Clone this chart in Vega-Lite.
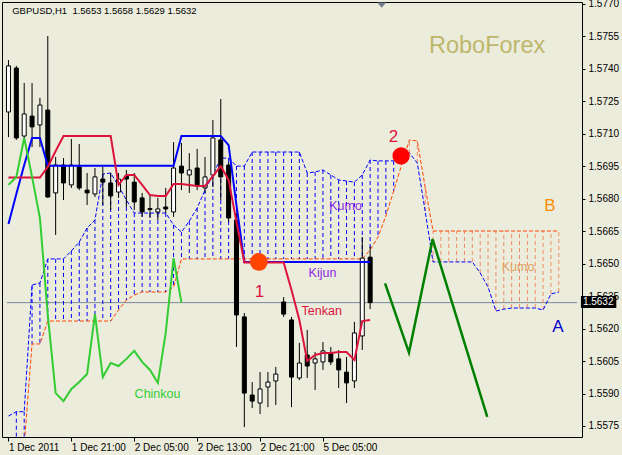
{
"$schema":"https://vega.github.io/schema/vega-lite/v6.json",
"width":580,"height":435,
"autosize":{"type":"none"},
"padding":{"left":2,"top":2,"right":40,"bottom":18},
"background":"#ECECDC",
"config":{"view":{"stroke":"#000000","strokeWidth":1,"fill":"#ECECDC"},"font":"Liberation Sans",
 "axis":{"domain":false,"grid":false,"tickColor":"#000000","labelColor":"#000000","labelFont":"Liberation Sans","labelFontSize":10,"labelOverlap":false,"labelFlush":false,"labelBound":false},
 "axisX":{"tickSize":4,"labelPadding":1,"labelAlign":"left","labelBaseline":"top"},
 "axisY":{"tickSize":3,"labelPadding":3,"labelBaseline":"middle"}},
"encoding":{"x":{"field":"i","type":"quantitative","scale":{"domain":[-0.1875,72.3125],"nice":false,"zero":false},
   "axis":{"title":null,"values":[0,8,16,24,32,40],"labelExpr":"datum.value==0?'1 Dec 2011':datum.value==8?'1 Dec 21:00':datum.value==16?'2 Dec 05:00':datum.value==24?'2 Dec 13:00':datum.value==32?'2 Dec 21:00':'5 Dec 05:00'"}}},
"datasets":{"ichi":[
{"i":0,"o":1.57201,"h":1.57441,"l":1.57085,"c":1.57414,"tenkan":1.56898,"kijun":1.56683,"chinkou":1.56864,"spanA":1.55796},
{"i":1,"o":1.57404,"h":1.57414,"l":1.57072,"c":1.57081,"tenkan":1.56898,"kijun":1.56822,"chinkou":1.56901,"spanA":1.55816,"spanB":1.5566},
{"i":2,"o":1.57090,"h":1.57335,"l":1.57072,"c":1.57192,"tenkan":1.56898,"kijun":1.56956,"chinkou":1.57081,"spanA":1.55816,"spanB":1.5566},
{"i":3,"o":1.57182,"h":1.57335,"l":1.57039,"c":1.57132,"tenkan":1.56898,"kijun":1.57081,"chinkou":1.56901,"spanA":1.56401,"spanB":1.56129},
{"i":4,"o":1.57141,"h":1.57266,"l":1.57039,"c":1.57233,"tenkan":1.56898,"kijun":1.57081,"chinkou":1.56711,"spanA":1.56411,"spanB":1.56129},
{"i":5,"o":1.57210,"h":1.57552,"l":1.56804,"c":1.56808,"tenkan":1.56947,"kijun":1.56953,"chinkou":1.56263,"spanA":1.56522,"spanB":1.56235},
{"i":6,"o":1.56827,"h":1.56993,"l":1.56633,"c":1.56956,"tenkan":1.57021,"kijun":1.56953,"chinkou":1.55902,"spanA":1.56522,"spanB":1.56235},
{"i":7,"o":1.56956,"h":1.56988,"l":1.56794,"c":1.56873,"tenkan":1.57090,"kijun":1.56953,"chinkou":1.55865,"spanA":1.56522,"spanB":1.56235},
{"i":8,"o":1.56864,"h":1.57076,"l":1.56850,"c":1.56956,"tenkan":1.57090,"kijun":1.56953,"chinkou":1.55921,"spanA":1.56559,"spanB":1.56235},
{"i":9,"o":1.56947,"h":1.57053,"l":1.56840,"c":1.56850,"tenkan":1.57090,"kijun":1.56953,"chinkou":1.55953,"spanA":1.56600,"spanB":1.56235},
{"i":10,"o":1.56840,"h":1.56919,"l":1.56771,"c":1.56827,"tenkan":1.57090,"kijun":1.56953,"chinkou":1.55990,"spanA":1.56665,"spanB":1.56235},
{"i":11,"o":1.56822,"h":1.56942,"l":1.56808,"c":1.56901,"tenkan":1.57090,"kijun":1.56953,"chinkou":1.56267,"spanA":1.56702,"spanB":1.56235},
{"i":12,"o":1.56891,"h":1.56947,"l":1.56771,"c":1.56877,"tenkan":1.57090,"kijun":1.56953,"chinkou":1.55976,"spanA":1.56914,"spanB":1.56235},
{"i":13,"o":1.56873,"h":1.56919,"l":1.56748,"c":1.56813,"tenkan":1.57090,"kijun":1.56953,"chinkou":1.56041,"spanA":1.56919,"spanB":1.56235},
{"i":14,"o":1.56831,"h":1.56919,"l":1.56804,"c":1.56891,"tenkan":1.56864,"kijun":1.56953,"chinkou":1.56027,"spanA":1.56859,"spanB":1.56286},
{"i":15,"o":1.56905,"h":1.56933,"l":1.56762,"c":1.56891,"tenkan":1.56910,"kijun":1.56953,"chinkou":1.56060,"spanA":1.56794,"spanB":1.56332},
{"i":16,"o":1.56877,"h":1.56919,"l":1.56748,"c":1.56785,"tenkan":1.56910,"kijun":1.56953,"chinkou":1.56097,"spanA":1.56734,"spanB":1.56355},
{"i":17,"o":1.56804,"h":1.56827,"l":1.56716,"c":1.56739,"tenkan":1.56864,"kijun":1.56953,"chinkou":1.56046,"spanA":1.56734,"spanB":1.56369},
{"i":18,"o":1.56755,"h":1.56817,"l":1.56711,"c":1.56750,"tenkan":1.56817,"kijun":1.56953,"chinkou":1.56009,"spanA":1.56734,"spanB":1.56369},
{"i":19,"o":1.56739,"h":1.56804,"l":1.56702,"c":1.56753,"tenkan":1.56813,"kijun":1.56953,"chinkou":1.55949,"spanA":1.56734,"spanB":1.56369},
{"i":20,"o":1.56762,"h":1.56850,"l":1.56734,"c":1.56753,"tenkan":1.56813,"kijun":1.56953,"chinkou":1.56180,"spanA":1.56734,"spanB":1.56369},
{"i":21,"o":1.56739,"h":1.57062,"l":1.56716,"c":1.56942,"tenkan":1.56868,"kijun":1.56953,"chinkou":1.56526,"spanA":1.56679,"spanB":1.56392},
{"i":22,"o":1.56951,"h":1.57058,"l":1.56840,"c":1.56919,"tenkan":1.56868,"kijun":1.57090,"chinkou":1.5632,"spanA":1.56646,"spanB":1.56522},
{"i":23,"o":1.56910,"h":1.57011,"l":1.56827,"c":1.56933,"tenkan":1.56864,"kijun":1.57090,"spanA":1.56697,"spanB":1.56522},
{"i":24,"o":1.56942,"h":1.57030,"l":1.56840,"c":1.56864,"tenkan":1.56859,"kijun":1.57090,"spanA":1.56757,"spanB":1.56522},
{"i":25,"o":1.56850,"h":1.56993,"l":1.56827,"c":1.56901,"tenkan":1.56859,"kijun":1.57090,"spanA":1.56840,"spanB":1.56522},
{"i":26,"o":1.56910,"h":1.57164,"l":1.56854,"c":1.57081,"tenkan":1.56905,"kijun":1.57090,"spanA":1.56910,"spanB":1.56522},
{"i":27,"o":1.57072,"h":1.57261,"l":1.56794,"c":1.56901,"tenkan":1.56951,"kijun":1.57090,"spanA":1.56988,"spanB":1.56522},
{"i":28,"o":1.56956,"h":1.56970,"l":1.56693,"c":1.56711,"tenkan":1.56887,"kijun":1.57048,"spanA":1.56988,"spanB":1.56522},
{"i":29,"o":1.56702,"h":1.56734,"l":1.56115,"c":1.56263,"tenkan":1.56693,"kijun":1.56771,"spanA":1.56951,"spanB":1.56522},
{"i":30,"o":1.56254,"h":1.56272,"l":1.55745,"c":1.55902,"tenkan":1.56506,"kijun":1.56508,"spanA":1.56951,"spanB":1.56522},
{"i":31,"o":1.55893,"h":1.55953,"l":1.55833,"c":1.55865,"tenkan":1.56506,"kijun":1.56508,"spanA":1.57016,"spanB":1.56522},
{"i":32,"o":1.55856,"h":1.55999,"l":1.55805,"c":1.55921,"tenkan":1.56506,"kijun":1.56508,"spanA":1.57016,"spanB":1.56522},
{"i":33,"o":1.55930,"h":1.55999,"l":1.55837,"c":1.55953,"tenkan":1.56506,"kijun":1.56508,"spanA":1.57016,"spanB":1.56522},
{"i":34,"o":1.55958,"h":1.56023,"l":1.55847,"c":1.55990,"tenkan":1.56506,"kijun":1.56508,"spanA":1.57016,"spanB":1.56522},
{"i":35,"o":1.56323,"h":1.56346,"l":1.56254,"c":1.56267,"tenkan":1.56506,"kijun":1.56508,"spanA":1.57016,"spanB":1.56522},
{"i":36,"o":1.56240,"h":1.56254,"l":1.55837,"c":1.55976,"tenkan":1.56378,"kijun":1.56508,"spanA":1.57016,"spanB":1.56522},
{"i":37,"o":1.55972,"h":1.56134,"l":1.55962,"c":1.56041,"tenkan":1.56240,"kijun":1.56508,"spanA":1.57016,"spanB":1.56522},
{"i":38,"o":1.56078,"h":1.56194,"l":1.55972,"c":1.56027,"tenkan":1.56050,"kijun":1.56508,"spanA":1.56919,"spanB":1.56522},
{"i":39,"o":1.56041,"h":1.56092,"l":1.55916,"c":1.56060,"tenkan":1.56078,"kijun":1.56508,"spanA":1.56924,"spanB":1.56522},
{"i":40,"o":1.56046,"h":1.56138,"l":1.56009,"c":1.56097,"tenkan":1.56087,"kijun":1.56508,"spanA":1.56933,"spanB":1.56522},
{"i":41,"o":1.56087,"h":1.56115,"l":1.56032,"c":1.56046,"tenkan":1.56087,"kijun":1.56508,"spanA":1.56910,"spanB":1.56522},
{"i":42,"o":1.56060,"h":1.56101,"l":1.55925,"c":1.56009,"tenkan":1.56092,"kijun":1.56508,"spanA":1.56887,"spanB":1.56522},
{"i":43,"o":1.55999,"h":1.56069,"l":1.55856,"c":1.55949,"tenkan":1.56092,"kijun":1.56508,"spanA":1.56882,"spanB":1.56522},
{"i":44,"o":1.55958,"h":1.56231,"l":1.55925,"c":1.56180,"tenkan":1.56055,"kijun":1.56508,"spanA":1.56877,"spanB":1.56522},
{"i":45,"o":1.56166,"h":1.56623,"l":1.56101,"c":1.56526,"tenkan":1.56235,"kijun":1.56508,"spanA":1.56910,"spanB":1.56522},
{"i":46,"o":1.5653,"h":1.5658,"l":1.5629,"c":1.5632,"tenkan":1.56240,"kijun":1.56508,"spanA":1.56979,"spanB":1.56563},
{"i":47,"spanA":1.56975,"spanB":1.56623},
{"i":48,"spanA":1.56975,"spanB":1.56720},
{"i":49,"spanA":1.56975,"spanB":1.56836},
{"i":50,"spanA":1.57002,"spanB":1.56956},
{"i":51,"spanA":1.57011,"spanB":1.57072},
{"i":52,"spanA":1.56965,"spanB":1.57067},
{"i":53,"spanA":1.56743,"spanB":1.56854},
{"i":54,"spanA":1.56508,"spanB":1.56651},
{"i":55,"spanA":1.56508,"spanB":1.56651},
{"i":56,"spanA":1.56508,"spanB":1.56651},
{"i":57,"spanA":1.56508,"spanB":1.56651},
{"i":58,"spanA":1.56508,"spanB":1.56651},
{"i":59,"spanA":1.56508,"spanB":1.56651},
{"i":60,"spanA":1.56457,"spanB":1.56651},
{"i":61,"spanA":1.56392,"spanB":1.56651},
{"i":62,"spanA":1.56281,"spanB":1.56651},
{"i":63,"spanA":1.56290,"spanB":1.56651},
{"i":64,"spanA":1.56295,"spanB":1.56651},
{"i":65,"spanA":1.56295,"spanB":1.56651},
{"i":66,"spanA":1.56295,"spanB":1.56651},
{"i":67,"spanA":1.56295,"spanB":1.56651},
{"i":68,"spanA":1.56286,"spanB":1.56651},
{"i":69,"spanA":1.56360,"spanB":1.56651},
{"i":70,"spanA":1.56369,"spanB":1.56651}
]},
"layer":[
{"data":{"values":[{"i":-0.1875,"i2":72.3125,"p":1.5632}]},"mark":{"type":"rule","color":"#778899","strokeWidth":1},
 "encoding":{"x2":{"field":"i2"},"y":{"field":"p","type":"quantitative","scale":{"domain":[1.5569907,1.5770924],"nice":false,"zero":false},"axis":{"orient":"right","title":null,"values":[1.5575,1.559,1.5605,1.562,1.5635,1.565,1.5665,1.568,1.5695,1.571,1.5725,1.574,1.5755,1.577],"format":".4f"}}}},
{"data":{"name":"ichi"},"transform":[{"filter":"isValid(datum.spanA) && isValid(datum.spanB)"}],
 "mark":{"type":"rule","strokeWidth":1,"strokeDash":[4,3],"clip":true},
 "encoding":{"y":{"field":"spanA","type":"quantitative","scale":{"domain":[1.5569907,1.5770924],"nice":false,"zero":false},"axis":{"orient":"right","title":null,"values":[1.5575,1.559,1.5605,1.562,1.5635,1.565,1.5665,1.568,1.5695,1.571,1.5725,1.574,1.5755,1.577],"format":".4f"}},
  "y2":{"field":"spanB"},
  "color":{"condition":{"test":"datum.spanA > datum.spanB","value":"#0000FF"},"value":"#F08A66"}}},
{"data":{"name":"ichi"},"transform":[{"filter":"isValid(datum.spanB)"}],
 "mark":{"type":"line","color":"#FF4500","strokeWidth":1,"strokeDash":[4,2],"clip":true},
 "encoding":{"y":{"field":"spanB","type":"quantitative","scale":{"domain":[1.5569907,1.5770924],"nice":false,"zero":false},"axis":{"orient":"right","title":null,"values":[1.5575,1.559,1.5605,1.562,1.5635,1.565,1.5665,1.568,1.5695,1.571,1.5725,1.574,1.5755,1.577],"format":".4f"}}}},
{"data":{"name":"ichi"},"transform":[{"filter":"isValid(datum.spanA)"}],
 "mark":{"type":"line","color":"#0000FF","strokeWidth":1,"strokeDash":[4,2],"clip":true},
 "encoding":{"y":{"field":"spanA","type":"quantitative","scale":{"domain":[1.5569907,1.5770924],"nice":false,"zero":false},"axis":{"orient":"right","title":null,"values":[1.5575,1.559,1.5605,1.562,1.5635,1.565,1.5665,1.568,1.5695,1.571,1.5725,1.574,1.5755,1.577],"format":".4f"}}}},
{"data":{"name":"ichi"},"transform":[{"filter":"isValid(datum.o)"}],
 "mark":{"type":"rule","color":"#000000","strokeWidth":1},
 "encoding":{"y":{"field":"l","type":"quantitative","scale":{"domain":[1.5569907,1.5770924],"nice":false,"zero":false},"axis":{"orient":"right","title":null,"values":[1.5575,1.559,1.5605,1.562,1.5635,1.565,1.5665,1.568,1.5695,1.571,1.5725,1.574,1.5755,1.577],"format":".4f"}},
  "y2":{"field":"h"}}},
{"data":{"name":"ichi"},"transform":[{"filter":"isValid(datum.o)"}],
 "mark":{"type":"bar","width":4,"stroke":"#000000","strokeWidth":1},
 "encoding":{"y":{"field":"o","type":"quantitative","scale":{"domain":[1.5569907,1.5770924],"nice":false,"zero":false},"axis":{"orient":"right","title":null,"values":[1.5575,1.559,1.5605,1.562,1.5635,1.565,1.5665,1.568,1.5695,1.571,1.5725,1.574,1.5755,1.577],"format":".4f"}},
  "y2":{"field":"c"},
  "fill":{"condition":{"test":"datum.c >= datum.o","value":"#FFFFFF"},"value":"#000000"}}},
{"data":{"name":"ichi"},"transform":[{"filter":"isValid(datum.kijun)"}],
 "mark":{"type":"line","color":"#0000FF","strokeWidth":2},
 "encoding":{"y":{"field":"kijun","type":"quantitative","scale":{"domain":[1.5569907,1.5770924],"nice":false,"zero":false},"axis":{"orient":"right","title":null,"values":[1.5575,1.559,1.5605,1.562,1.5635,1.565,1.5665,1.568,1.5695,1.571,1.5725,1.574,1.5755,1.577],"format":".4f"}}}},
{"data":{"name":"ichi"},"transform":[{"filter":"isValid(datum.tenkan)"}],
 "mark":{"type":"line","color":"#DC143C","strokeWidth":2},
 "encoding":{"y":{"field":"tenkan","type":"quantitative","scale":{"domain":[1.5569907,1.5770924],"nice":false,"zero":false},"axis":{"orient":"right","title":null,"values":[1.5575,1.559,1.5605,1.562,1.5635,1.565,1.5665,1.568,1.5695,1.571,1.5725,1.574,1.5755,1.577],"format":".4f"}}}},
{"data":{"name":"ichi"},"transform":[{"filter":"isValid(datum.chinkou)"}],
 "mark":{"type":"line","color":"#32CD32","strokeWidth":2},
 "encoding":{"y":{"field":"chinkou","type":"quantitative","scale":{"domain":[1.5569907,1.5770924],"nice":false,"zero":false},"axis":{"orient":"right","title":null,"values":[1.5575,1.559,1.5605,1.562,1.5635,1.565,1.5665,1.568,1.5695,1.571,1.5725,1.574,1.5755,1.577],"format":".4f"}}}},
{"data":{"values":[{"i":47.9,"p":1.56409},{"i":50.94,"p":1.56089},{"i":53.94,"p":1.56613},{"i":60.9,"p":1.55792}]},
 "mark":{"type":"line","color":"#008000","strokeWidth":2.5},
 "encoding":{"y":{"field":"p","type":"quantitative","scale":{"domain":[1.5569907,1.5770924],"nice":false,"zero":false},"axis":{"orient":"right","title":null,"values":[1.5575,1.559,1.5605,1.562,1.5635,1.565,1.5665,1.568,1.5695,1.571,1.5725,1.574,1.5755,1.577],"format":".4f"}}}},
{"data":{"values":[{"i":31.85,"p":1.56508}]},
 "mark":{"type":"point","shape":"circle","filled":true,"size":314,"color":"#FF4500","opacity":1},
 "encoding":{"y":{"field":"p","type":"quantitative","scale":{"domain":[1.5569907,1.5770924],"nice":false,"zero":false},"axis":{"orient":"right","title":null,"values":[1.5575,1.559,1.5605,1.562,1.5635,1.565,1.5665,1.568,1.5695,1.571,1.5725,1.574,1.5755,1.577],"format":".4f"}}}},
{"data":{"values":[{"i":49.94,"p":1.56998}]},
 "mark":{"type":"point","shape":"circle","filled":true,"size":300,"color":"#FF0000","opacity":1},
 "encoding":{"y":{"field":"p","type":"quantitative","scale":{"domain":[1.5569907,1.5770924],"nice":false,"zero":false},"axis":{"orient":"right","title":null,"values":[1.5575,1.559,1.5605,1.562,1.5635,1.565,1.5665,1.568,1.5695,1.571,1.5725,1.574,1.5755,1.577],"format":".4f"}}}},
{"data":{"values":[{"i":47.47,"p":1.57695}]},
 "mark":{"type":"point","shape":"M-1,-0.6L1,-0.6L0,0.6Z","filled":true,"size":81,"color":"#708090","opacity":1},
 "encoding":{"y":{"field":"p","type":"quantitative","scale":{"domain":[1.5569907,1.5770924],"nice":false,"zero":false},"axis":{"orient":"right","title":null,"values":[1.5575,1.559,1.5605,1.562,1.5635,1.565,1.5665,1.568,1.5695,1.571,1.5725,1.574,1.5755,1.577],"format":".4f"}}}},
{"data":{"values":[{"i":0.475,"p":1.57654,"t":"GBPUSD,H1\u00a0\u00a01.5653 1.5658 1.5629 1.5632"}]},
 "mark":{"type":"text","align":"left","baseline":"alphabetic","font":"Liberation Sans","fontSize":9.5,"color":"#000000"},
 "encoding":{"y":{"field":"p","type":"quantitative","scale":{"domain":[1.5569907,1.5770924],"nice":false,"zero":false},"axis":{"orient":"right","title":null,"values":[1.5575,1.559,1.5605,1.562,1.5635,1.565,1.5665,1.568,1.5695,1.571,1.5725,1.574,1.5755,1.577],"format":".4f"}},"text":{"field":"t"}}},
{"data":{"values":[{"i":60.875,"p":1.57474,"t":"RoboForex"}]},
 "mark":{"type":"text","align":"center","baseline":"alphabetic","font":"Liberation Sans","fontSize":23.5,"color":"#BDB76B"},
 "encoding":{"y":{"field":"p","type":"quantitative","scale":{"domain":[1.5569907,1.5770924],"nice":false,"zero":false},"axis":{"orient":"right","title":null,"values":[1.5575,1.559,1.5605,1.562,1.5635,1.565,1.5665,1.568,1.5695,1.571,1.5725,1.574,1.5755,1.577],"format":".4f"}},"text":{"field":"t"}}},
{"data":{"values":[{"i":42.875,"p":1.56748,"t":"Kumo"},{"i":39.94,"p":1.56438,"t":"Kijun"}]},
 "mark":{"type":"text","align":"center","baseline":"alphabetic","font":"Liberation Sans","fontSize":12.5,"color":"#8A2BE2"},
 "encoding":{"y":{"field":"p","type":"quantitative","scale":{"domain":[1.5569907,1.5770924],"nice":false,"zero":false},"axis":{"orient":"right","title":null,"values":[1.5575,1.559,1.5605,1.562,1.5635,1.565,1.5665,1.568,1.5695,1.571,1.5725,1.574,1.5755,1.577],"format":".4f"}},"text":{"field":"t"}}},
{"data":{"values":[{"i":39.84,"p":1.56263,"t":"Tenkan"}]},
 "mark":{"type":"text","align":"center","baseline":"alphabetic","font":"Liberation Sans","fontSize":12.5,"color":"#DC143C"},
 "encoding":{"y":{"field":"p","type":"quantitative","scale":{"domain":[1.5569907,1.5770924],"nice":false,"zero":false},"axis":{"orient":"right","title":null,"values":[1.5575,1.559,1.5605,1.562,1.5635,1.565,1.5665,1.568,1.5695,1.571,1.5725,1.574,1.5755,1.577],"format":".4f"}},"text":{"field":"t"}}},
{"data":{"values":[{"i":18.96,"p":1.55879,"t":"Chinkou"}]},
 "mark":{"type":"text","align":"center","baseline":"alphabetic","font":"Liberation Sans","fontSize":12.5,"color":"#32CD32"},
 "encoding":{"y":{"field":"p","type":"quantitative","scale":{"domain":[1.5569907,1.5770924],"nice":false,"zero":false},"axis":{"orient":"right","title":null,"values":[1.5575,1.559,1.5605,1.562,1.5635,1.565,1.5665,1.568,1.5695,1.571,1.5725,1.574,1.5755,1.577],"format":".4f"}},"text":{"field":"t"}}},
{"data":{"values":[{"i":64.81,"p":1.56466,"t":"Kumo"}]},
 "mark":{"type":"text","align":"center","baseline":"alphabetic","font":"Liberation Sans","fontSize":12.5,"color":"#E0A060"},
 "encoding":{"y":{"field":"p","type":"quantitative","scale":{"domain":[1.5569907,1.5770924],"nice":false,"zero":false},"axis":{"orient":"right","title":null,"values":[1.5575,1.559,1.5605,1.562,1.5635,1.565,1.5665,1.568,1.5695,1.571,1.5725,1.574,1.5755,1.577],"format":".4f"}},"text":{"field":"t"}}},
{"data":{"values":[{"i":68.875,"p":1.56743,"t":"B"}]},
 "mark":{"type":"text","align":"center","baseline":"alphabetic","font":"Liberation Sans","fontSize":17,"color":"#FF8C00"},
 "encoding":{"y":{"field":"p","type":"quantitative","scale":{"domain":[1.5569907,1.5770924],"nice":false,"zero":false},"axis":{"orient":"right","title":null,"values":[1.5575,1.559,1.5605,1.562,1.5635,1.565,1.5665,1.568,1.5695,1.571,1.5725,1.574,1.5755,1.577],"format":".4f"}},"text":{"field":"t"}}},
{"data":{"values":[{"i":69.875,"p":1.56184,"t":"A"}]},
 "mark":{"type":"text","align":"center","baseline":"alphabetic","font":"Liberation Sans","fontSize":17,"color":"#0000CD"},
 "encoding":{"y":{"field":"p","type":"quantitative","scale":{"domain":[1.5569907,1.5770924],"nice":false,"zero":false},"axis":{"orient":"right","title":null,"values":[1.5575,1.559,1.5605,1.562,1.5635,1.565,1.5665,1.568,1.5695,1.571,1.5725,1.574,1.5755,1.577],"format":".4f"}},"text":{"field":"t"}}},
{"data":{"values":[{"i":31.94,"p":1.56346,"t":"1"},{"i":48.96,"p":1.57064,"t":"2"}]},
 "mark":{"type":"text","align":"center","baseline":"alphabetic","font":"Liberation Sans","fontSize":17,"color":"#DC143C"},
 "encoding":{"y":{"field":"p","type":"quantitative","scale":{"domain":[1.5569907,1.5770924],"nice":false,"zero":false},"axis":{"orient":"right","title":null,"values":[1.5575,1.559,1.5605,1.562,1.5635,1.565,1.5665,1.568,1.5695,1.571,1.5725,1.574,1.5755,1.577],"format":".4f"}},"text":{"field":"t"}}},
{"data":{"values":[{"i":72.8125,"i2":77.3125,"p":1.56351,"p2":1.56295}]},
 "mark":{"type":"rect","color":"#000000"},
 "encoding":{"x2":{"field":"i2"},
  "y":{"field":"p","type":"quantitative","scale":{"domain":[1.5569907,1.5770924],"nice":false,"zero":false},"axis":{"orient":"right","title":null,"values":[1.5575,1.559,1.5605,1.562,1.5635,1.565,1.5665,1.568,1.5695,1.571,1.5725,1.574,1.5755,1.577],"format":".4f"}},"y2":{"field":"p2"}}},
{"data":{"values":[{"i":73.0625,"p":1.56323,"t":"1.5632"}]},
 "mark":{"type":"text","align":"left","baseline":"middle","font":"Liberation Sans","fontSize":10,"color":"#FFFFFF"},
 "encoding":{"y":{"field":"p","type":"quantitative","scale":{"domain":[1.5569907,1.5770924],"nice":false,"zero":false},"axis":{"orient":"right","title":null,"values":[1.5575,1.559,1.5605,1.562,1.5635,1.565,1.5665,1.568,1.5695,1.571,1.5725,1.574,1.5755,1.577],"format":".4f"}},"text":{"field":"t"}}}
]
}
